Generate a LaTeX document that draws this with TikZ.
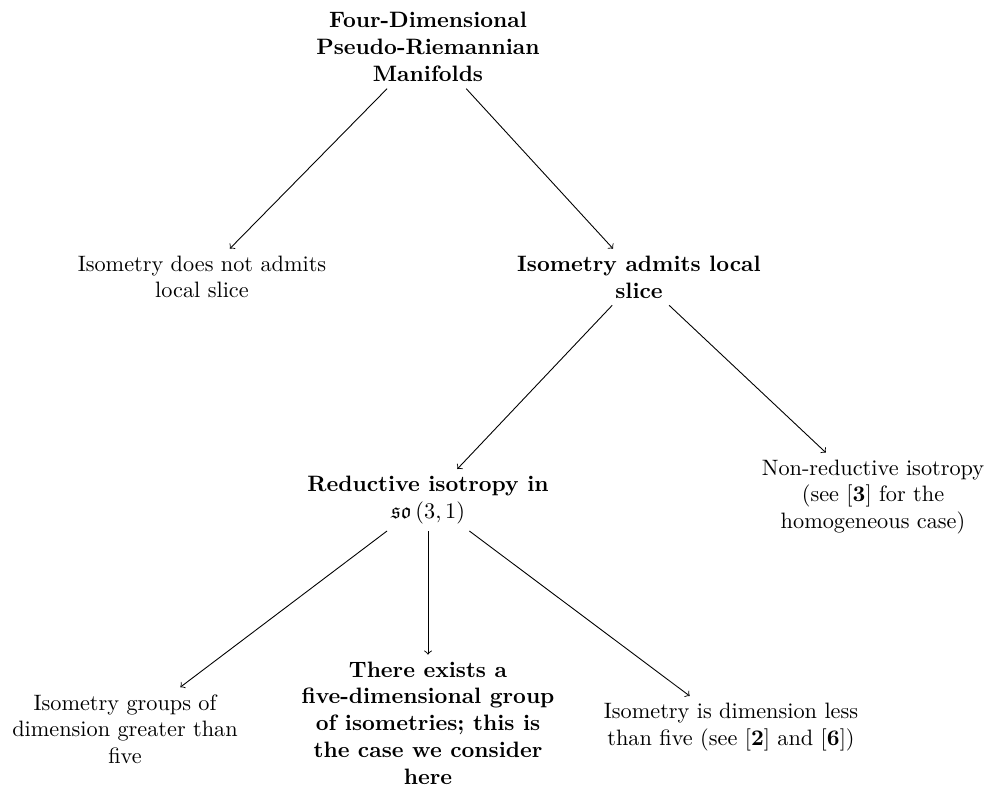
\documentclass[tikz,border=0pt]{standalone}
\usepackage{amssymb}
\begin{document}
\begin{tikzpicture}[x=0.449pt,y=-0.449pt,
  box/.style={align=center,inner sep=3pt},
  bbox/.style={box,font=\bfseries},
  conn/.style={->,>=to,line width=0.4pt}]
\useasboundingbox (0,0) rectangle (994,788);
\node[bbox] (top) at (428,47) {Four-Dimensional\\Pseudo-Riemannian\\Manifolds};
\node[box] (noslice) at (202,277) {Isometry does not admits\\local slice};
\node[bbox] (slice) at (639,277) {Isometry admits local\\slice};
\node[bbox] (red) at (428,500) {Reductive isotropy in\\$\mathfrak{so}\left(3,1\right)$};
\node[box] (nonred) at (873,497) {Non-reductive isotropy\\(see [\textbf{3}] for the\\homogeneous case)};
\node[box] (greater) at (125,729) {Isometry groups of\\dimension greater than\\five};
\node[bbox] (five) at (428,723) {There exists a\\five-dimensional group\\of isometries; this is\\the case we consider\\here};
\node[box] (less) at (731,727) {Isometry is dimension less\\than five (see [\textbf{2}] and [\textbf{6}])};
\draw[conn] (top) -- (noslice);
\draw[conn] (top) -- (slice);
\draw[conn] (slice) -- (red);
\draw[conn] (slice) -- (nonred);
\draw[conn] (red) -- (greater);
\draw[conn] (red) -- (five);
\draw[conn] (red) -- (less);
\end{tikzpicture}
\end{document}
